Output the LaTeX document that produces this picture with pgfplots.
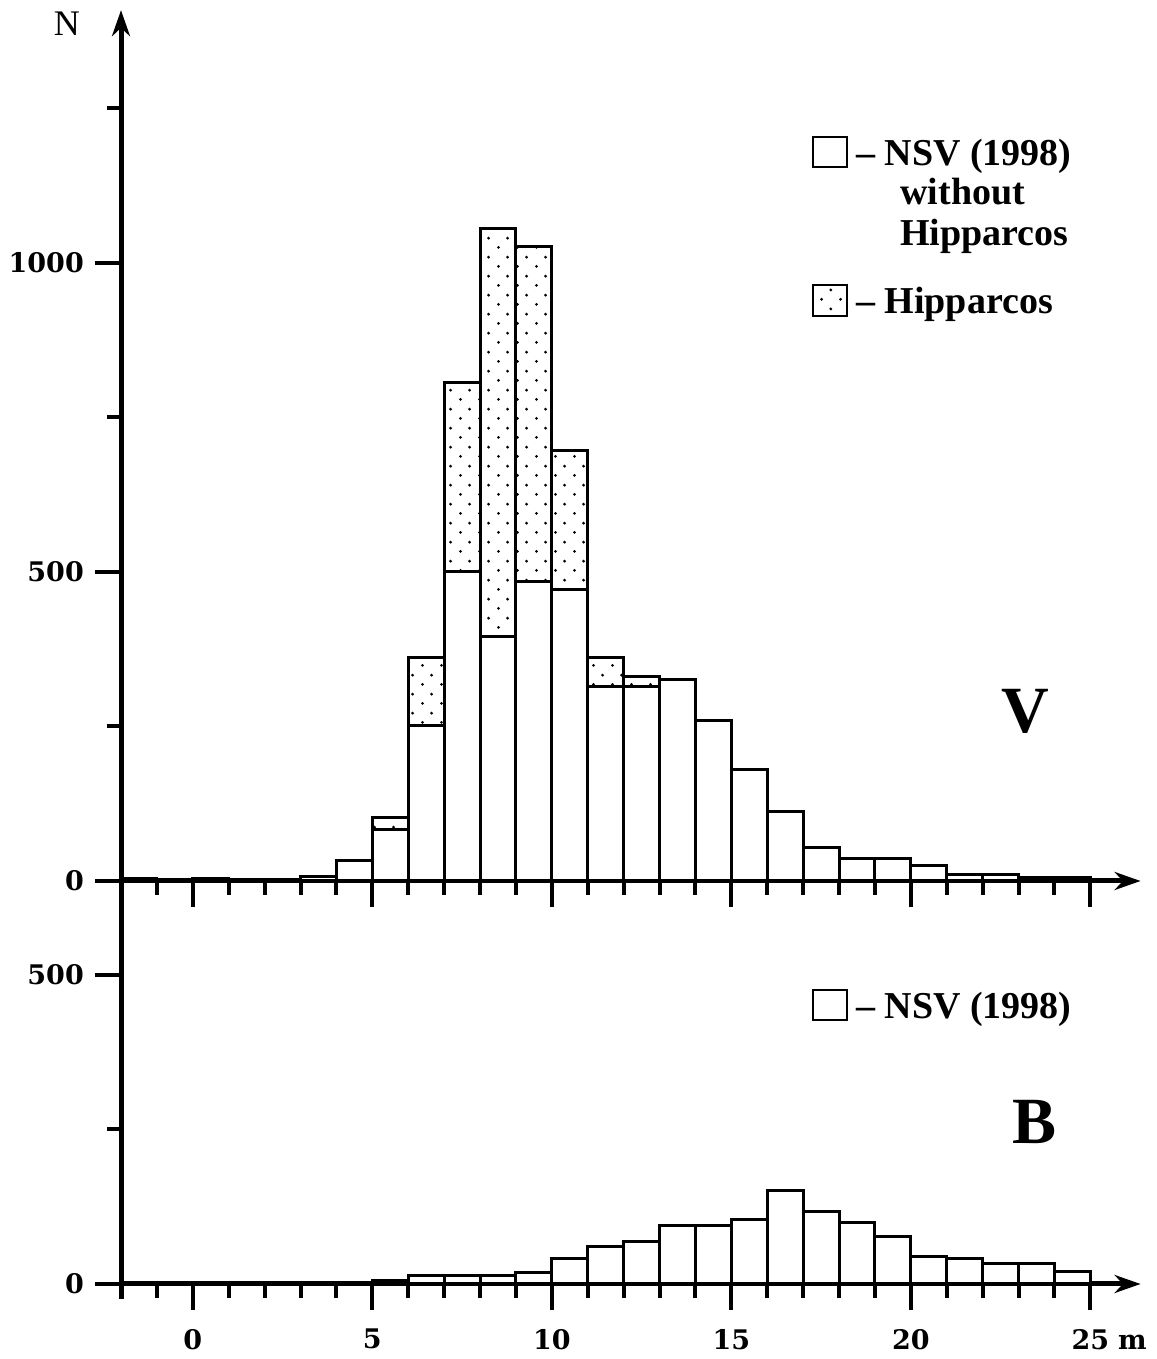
\documentclass[border=0pt]{standalone}
\usepackage{fontspec}
\setmainfont{Liberation Serif}
\newfontfamily\tickfont{DejaVu Serif}
\usepackage{pgfplots}
\pgfplotsset{compat=1.18}
\usetikzlibrary{arrows.meta,patterns}

% sparse staggered dots for the Hipparcos part
\pgfdeclarepatternformonly{sparse dots}{\pgfpoint{0pt}{0pt}}{\pgfpoint{19pt}{19.2pt}}{\pgfpoint{19pt}{19.2pt}}{%
  \pgfpathcircle{\pgfpoint{4.75pt}{4.8pt}}{1.6pt}%
  \pgfpathcircle{\pgfpoint{14.25pt}{14.4pt}}{1.6pt}%
  \pgfusepath{fill}}

\newcommand\tickf{\tickfont\bfseries\fontsize{27}{30}\selectfont}
\newcommand\legf{\bfseries\fontsize{38}{40}\selectfont}
\newcommand\bigf{\bfseries\fontsize{66}{70}\selectfont}

\pgfplotsset{
  histo/.style={
    scale only axis, width=1019.6pt,
    xmin=-2, xmax=26.4, ymin=0,
    axis lines=left,
    axis line style={line width=5pt},
    x axis line style={-{Stealth[length=26pt,width=18pt]}},
    tick align=outside,
    major tick length=26pt, minor tick length=14pt,
    tick style={black, line width=4pt},
    xtick={0,5,...,25}, minor xtick={-1,0,...,25},
    ybar stacked, bar width=1,
    clip=false,
    /pgf/number format/assume math mode=true,
    ticklabel style={font=\tickf, inner sep=0pt},
    yticklabel style={xshift=-11pt},
    xticklabel style={yshift=-19pt},
  },
  nsv/.style={fill=white, draw=black, line width=3pt},
  hip/.style={pattern=sparse dots, draw=black, line width=3pt},
}

\begin{document}
\begin{tikzpicture}
\path[use as bounding box] (0,0) rectangle (1156pt,1359pt);

% ---- V panel ----
\begin{axis}[histo,
  at={(121pt,478pt)}, anchor=south west,
  height=870.8pt, ymax=1409,
  y axis line style={-{Stealth[length=26pt,width=18pt]}},
  xticklabels={},
  ytick={0,500,1000}, yticklabels={0,500,1000},
  minor ytick={250,750,1250},
]
\addplot[nsv] coordinates {
  (-1.5,4) (-0.5,0) (0.5,4) (1.5,0) (2.5,0) (3.5,8) (4.5,33)
  (5.5,83) (6.5,251) (7.5,500) (8.5,395) (9.5,484) (10.5,472)
  (11.5,314) (12.5,314) (13.5,326) (14.5,260) (15.5,180) (16.5,113)
  (17.5,55) (18.5,37) (19.5,37) (20.5,25) (21.5,11) (22.5,10)
  (23.5,6) (24.5,6)};
\addplot[hip] coordinates {
  (-1.5,0) (-0.5,0) (0.5,0) (1.5,0) (2.5,0) (3.5,0) (4.5,0)
  (5.5,19) (6.5,110) (7.5,307) (8.5,660) (9.5,542) (10.5,225)
  (11.5,48) (12.5,17) (13.5,0) (14.5,0) (15.5,0) (16.5,0)
  (17.5,0) (18.5,0) (19.5,0) (20.5,0) (21.5,0) (22.5,0)
  (23.5,0) (24.5,0)};

\node[font=\fontsize{36}{40}\selectfont] at (axis cs:-3.51,1387) {N};
\node[font=\bigf] at (axis cs:23.18,275) {V};

\draw[line width=2pt] (axis cs:17.27,1155) rectangle (axis cs:18.22,1204);
\node[anchor=base west, font=\legf] at (axis cs:18.38,1158) {– NSV (1998)};
\node[anchor=base west, font=\legf] at (axis cs:19.61,1094) {without};
\node[anchor=base west, font=\legf] at (axis cs:19.61,1029) {Hipparcos};
\draw[line width=2pt, pattern=sparse dots] (axis cs:17.27,914) rectangle (axis cs:18.22,964);
\node[anchor=base west, font=\legf] at (axis cs:18.38,919) {– Hipparcos};
\end{axis}

% ---- B panel ----
\begin{axis}[histo,
  at={(121pt,75pt)}, anchor=south west,
  height=403pt, ymax=652,
  y axis line style={-, shorten <=-15pt},
  xticklabels={0,5,10,15,20,25\rlap{\hspace{9pt}m}},
  ytick={0,500}, yticklabels={0,500},
  minor ytick={250},
]
\addplot[nsv] coordinates {
  (-1.5,0) (-0.5,0) (0.5,0) (1.5,0) (2.5,0) (3.5,0) (4.5,2)
  (5.5,5) (6.5,13) (7.5,13) (8.5,13) (9.5,19) (10.5,41)
  (11.5,60) (12.5,68) (13.5,95) (14.5,94) (15.5,104) (16.5,152)
  (17.5,118) (18.5,100) (19.5,77) (20.5,44) (21.5,42) (22.5,33)
  (23.5,33) (24.5,20) (25.5,3)};

\node[font=\bigf] at (axis cs:23.45,262) {B};
\draw[line width=2pt] (axis cs:17.27,427) rectangle (axis cs:18.22,476);
\node[anchor=base west, font=\legf] at (axis cs:18.38,430) {– NSV (1998)};
\end{axis}
\end{tikzpicture}
\end{document}
